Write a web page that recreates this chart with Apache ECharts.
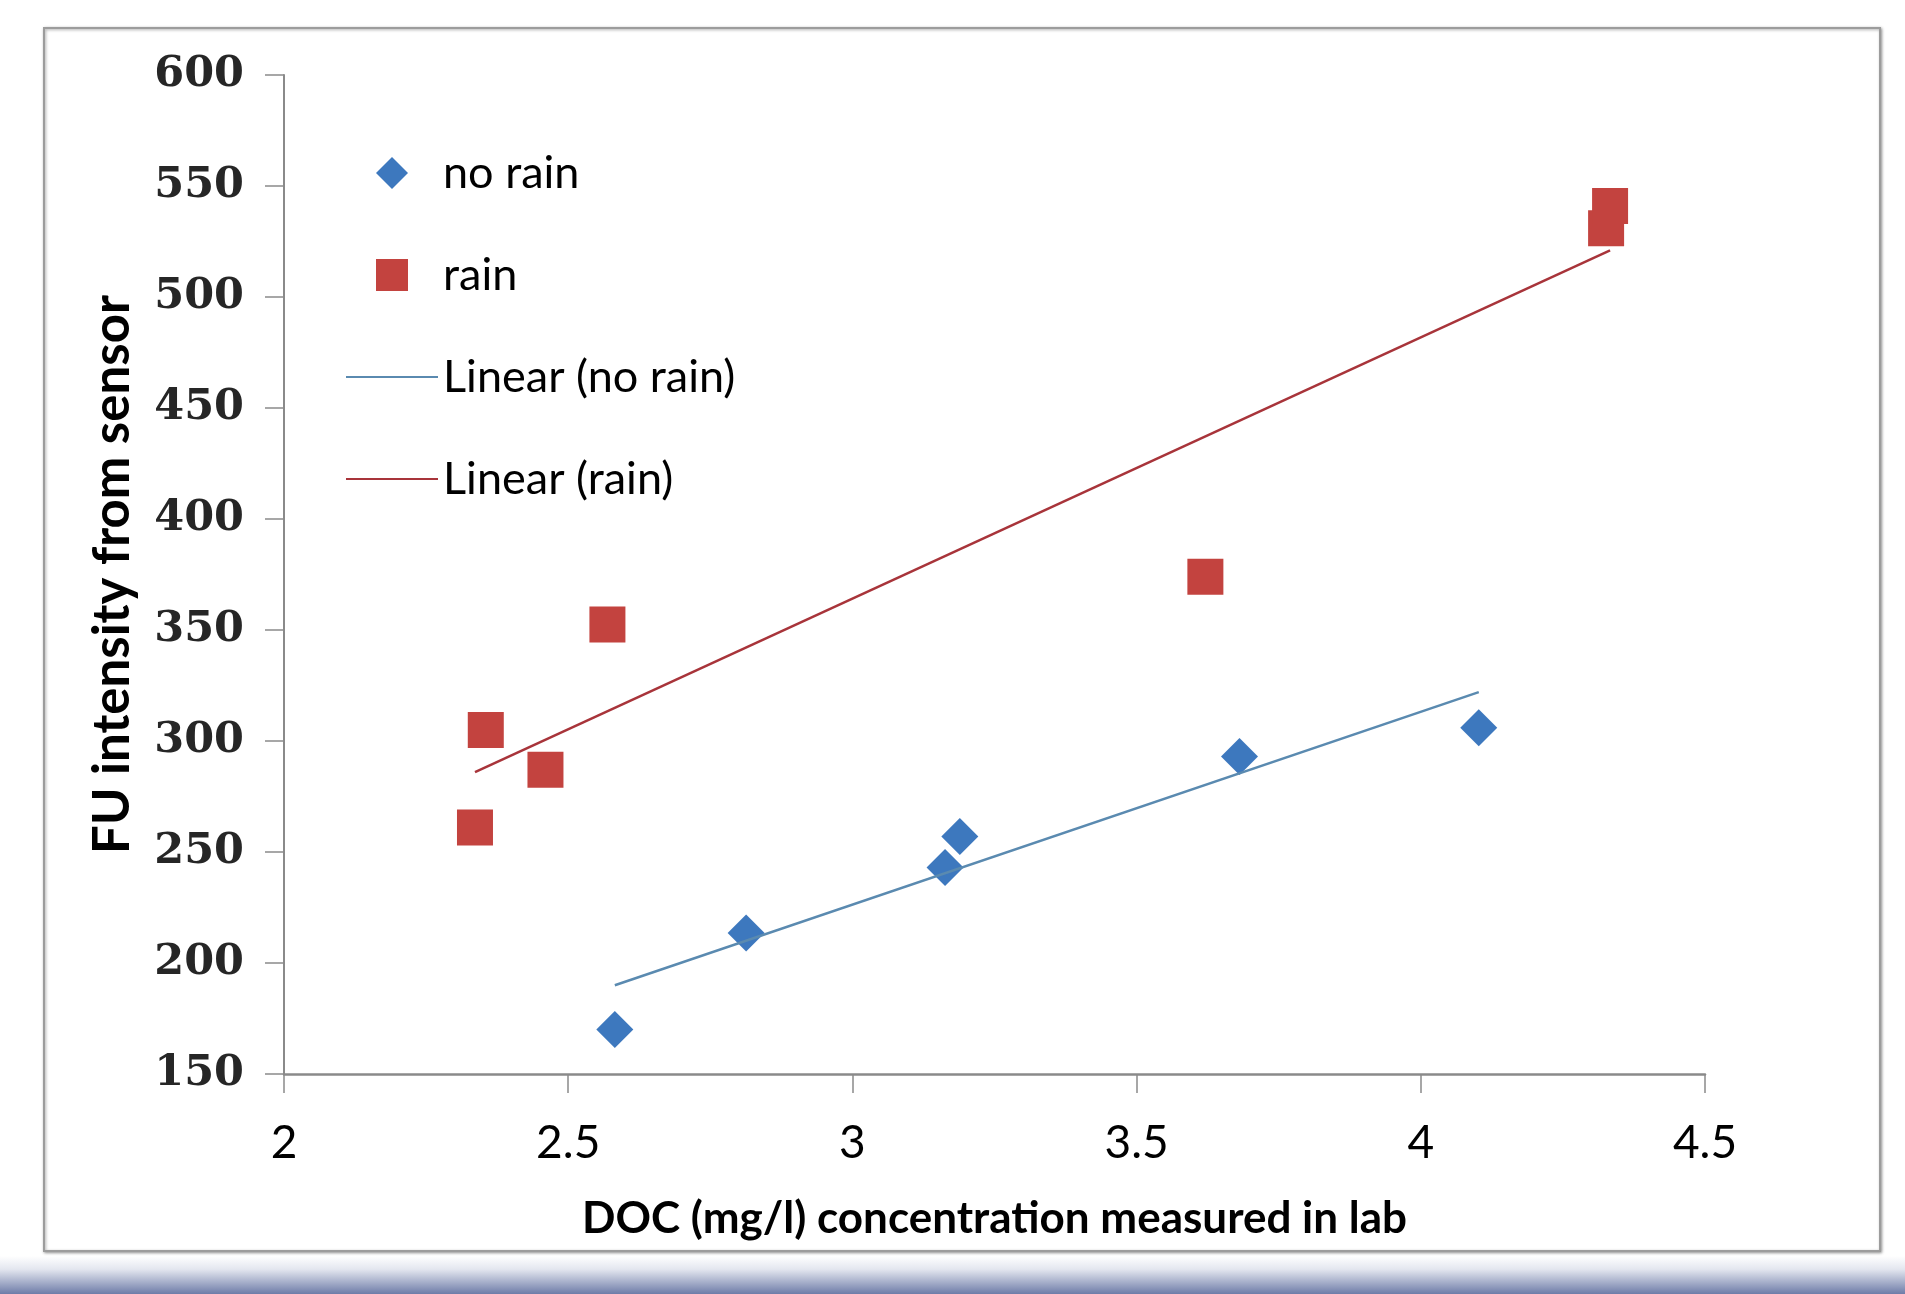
<!DOCTYPE html>
<html>
<head>
<meta charset="utf-8">
<script src="https://cdn.jsdelivr.net/npm/echarts@6/dist/echarts.min.js"></script>
<style>
  html, body { margin: 0; padding: 0; background: #ffffff; }
  #chart { width: 1905px; height: 1294px; }
</style>
</head>
<body>
<div id="chart"></div>
<script>
// Dry-weather samples: lab DOC (mg/l) vs. sensor fluorescence
const noRainDoc = [2.582, 2.813, 3.163, 3.189, 3.681, 4.102];
const noRainFu  = [170, 213.5, 243, 257, 293, 306];

// Wet-weather samples
const rainDoc = [2.336, 2.355, 2.46, 2.569, 3.621, 4.326, 4.333];
const rainFu  = [261, 305, 287, 352.5, 374, 531, 541];

// Least-squares trend line end points
const noRainFitDoc = [2.582, 4.102];
const noRainFitFu  = [190, 322];
const rainFitDoc   = [2.336, 4.333];
const rainFitFu    = [286, 521];

// Axis ticks
const xTicks = [2, 2.5, 3, 3.5, 4, 4.5];
const yTicks = [150, 200, 250, 300, 350, 400, 450, 500, 550, 600];

const seriesNames = ['no rain', 'rain', 'Linear (no rain)', 'Linear (rain)'];

const noRainColor = '#3d78be';
const rainColor = '#c3433f';
const noRainFitColor = '#5a8ab0';
const rainFitColor = '#a8343a';

const pairs = (xs, ys) => xs.map((x, i) => [x, ys[i]]);

const sans = "Lato, 'Open Sans', 'DejaVu Sans', sans-serif";
const axisGrey = '#8a8a8a';

const chart = echarts.init(document.getElementById('chart'), null, { renderer: 'canvas' });

chart.setOption({
  backgroundColor: '#ffffff',
  animation: false,
  graphic: [
    // slide footer band
    {
      type: 'rect', z: -10, silent: true,
      shape: { x: 0, y: 1256, width: 1905, height: 38 },
      style: {
        fill: new echarts.graphic.LinearGradient(0, 0, 0, 1, [
          { offset: 0, color: '#ffffff' },
          { offset: 0.35, color: '#e3e6ef' },
          { offset: 1, color: '#6e7ca8' }
        ])
      }
    },
    // chart frame
    {
      type: 'rect', z: -5, silent: true,
      shape: { x: 44, y: 28, width: 1836, height: 1223 },
      style: {
        fill: '#ffffff', stroke: '#9c9c9c', lineWidth: 2,
        shadowBlur: 3, shadowColor: 'rgba(0,0,0,0.35)', shadowOffsetX: 1, shadowOffsetY: 1
      }
    }
  ],
  grid: { left: 284, right: 200, top: 75, bottom: 220, containLabel: false },
  legend: {
    orient: 'vertical',
    left: 341, top: 143,
    itemWidth: 92, itemHeight: 32,
    itemGap: 52,
    symbolKeepAspect: true,
    data: [
      { name: seriesNames[0], icon: 'path://M0,-1L1,0L0,1L-1,0Z', itemStyle: { color: noRainColor } },
      { name: seriesNames[1], icon: 'path://M0,0L1,0L1,1L0,1Z', itemStyle: { color: rainColor } },
      { name: seriesNames[2], icon: 'path://M0,0L46,0L46,1L0,1Z', itemStyle: { color: noRainFitColor } },
      { name: seriesNames[3], icon: 'path://M0,0L46,0L46,1L0,1Z', itemStyle: { color: rainFitColor } }
    ],
    textStyle: { fontFamily: sans, fontSize: 45, color: '#000000', lineHeight: 50 }
  },
  xAxis: {
    type: 'value',
    min: xTicks[0], max: xTicks[xTicks.length - 1], interval: 0.5,
    name: 'DOC (mg/l) concentration measured in lab',
    nameLocation: 'middle', nameGap: 123,
    nameTextStyle: { fontFamily: sans, fontSize: 44, fontWeight: 'bold', color: '#000000' },
    axisLine: { show: true, lineStyle: { color: axisGrey, width: 2.5 } },
    axisTick: { show: true, inside: false, length: 19, lineStyle: { color: axisGrey, width: 1.5 } },
    axisLabel: { margin: 46, fontFamily: sans, fontSize: 46, color: '#000000' },
    splitLine: { show: false }
  },
  yAxis: {
    type: 'value',
    min: yTicks[0], max: yTicks[yTicks.length - 1], interval: 50,
    name: 'FU intensity from sensor',
    nameLocation: 'middle', nameGap: 146,
    nameTextStyle: { fontFamily: sans, fontSize: 51, fontWeight: 'bold', color: '#000000' },
    axisLine: { show: true, lineStyle: { color: axisGrey, width: 2 } },
    axisTick: { show: true, inside: false, length: 19, lineStyle: { color: axisGrey, width: 1.5 } },
    axisLabel: { margin: 40, fontFamily: "'DejaVu Serif', serif", fontSize: 43, fontWeight: 'bold', color: '#262626' },
    splitLine: { show: false }
  },
  series: [
    {
      name: seriesNames[0], type: 'scatter',
      symbol: 'diamond', symbolSize: 37,
      itemStyle: { color: noRainColor, opacity: 1 },
      data: pairs(noRainDoc, noRainFu), z: 2
    },
    {
      name: seriesNames[1], type: 'scatter',
      symbol: 'rect', symbolSize: 36,
      itemStyle: { color: rainColor, opacity: 1 },
      data: pairs(rainDoc, rainFu), z: 2
    },
    {
      name: seriesNames[2], type: 'line',
      symbol: 'none', showSymbol: false,
      lineStyle: { color: noRainFitColor, width: 2.5 },
      itemStyle: { color: noRainFitColor },
      data: pairs(noRainFitDoc, noRainFitFu), z: 3
    },
    {
      name: seriesNames[3], type: 'line',
      symbol: 'none', showSymbol: false,
      lineStyle: { color: rainFitColor, width: 2.5 },
      itemStyle: { color: rainFitColor },
      data: pairs(rainFitDoc, rainFitFu), z: 3
    }
  ]
});
</script>
</body>
</html>
